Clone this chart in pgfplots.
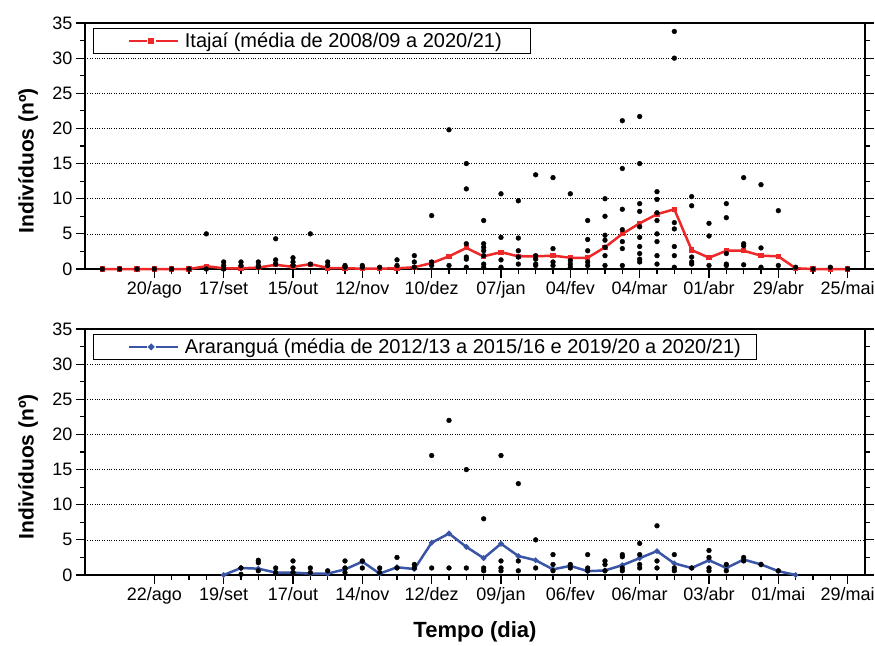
\documentclass[border=0pt]{standalone}
\usepackage{fontspec}
\setmainfont{Liberation Sans}
\usepackage{pgfplots}
\pgfplotsset{compat=1.18}
\definecolor{itred}{RGB}{238,40,40}
\definecolor{arblue}{RGB}{58,84,166}

\pgfplotstableread{
x y
1 0
2 0
3 0
4 0
5 0
6 0
7 0.4
8 0.1
9 0.1
10 0.2
11 0.6
12 0.3
13 0.7
14 0.15
15 0.1
16 0.05
17 0.05
18 0.1
19 0.25
20 0.85
21 1.8
22 3.0
23 1.8
24 2.4
25 1.8
26 1.8
27 1.9
28 1.6
29 1.6
30 3.1
31 5.0
32 6.5
33 7.8
34 8.5
35 2.7
36 1.6
37 2.6
38 2.6
39 1.9
40 1.8
41 0.1
42 0
43 0
44 0
}\itmean

\pgfplotstableread{
x y
1 0
2 0
3 0
4 0
5 0
6 0
7 5.0
7 0
8 1.0
8 0.5
8 0
9 1.0
9 0.5
10 1.0
10 0.5
10 0.25
11 4.3
11 1.3
11 0.7
12 1.6
12 1.0
12 0.5
13 5.0
13 0.7
14 1.0
14 0.5
15 0.5
15 0.25
16 0.5
16 0.25
17 0.25
18 1.3
18 0.5
19 1.9
19 1.0
19 0.25
20 7.6
20 1.0
20 0.5
21 19.8
21 0.5
22 15.0
22 11.4
22 3.6
22 1.7
22 1.4
22 0.25
23 6.9
23 3.6
23 3.1
23 2.6
23 1.9
23 0.7
23 0.25
24 10.7
24 4.5
24 1.3
24 0.25
25 9.7
25 4.4
25 2.6
25 1.7
25 0.7
26 13.4
26 1.9
26 1.4
26 0.7
26 0.5
27 13.0
27 2.9
27 1.0
27 0.5
28 10.7
28 1.2
28 0.7
28 0.25
29 6.9
29 4.2
29 2.6
29 1.0
29 0.5
30 10.0
30 7.5
30 4.8
30 4.1
30 3.1
30 1.9
30 0.5
31 21.1
31 14.3
31 8.5
31 5.6
31 3.9
31 2.9
31 0.5
32 21.7
32 15.0
32 9.3
32 8.2
32 6.0
32 4.5
32 3.2
32 2.2
32 1.4
32 1.0
33 11.0
33 9.9
33 8.0
33 6.9
33 5.0
33 3.9
33 1.9
33 0.7
34 33.8
34 30.0
34 6.6
34 5.7
34 3.2
34 1.9
34 0.25
35 10.3
35 9.0
35 1.7
35 1.0
35 0.7
36 6.5
36 4.7
36 0.5
37 9.3
37 7.3
37 2.2
37 0.7
37 0.5
38 13.0
38 3.6
38 3.3
38 0.6
39 12.0
39 3.0
39 0.25
40 8.3
40 0.5
41 0.25
42 0
43 0.25
44 0
}\itpts

\pgfplotstableread{
x y
8 0
9 1.0
10 0.9
11 0.35
12 0.35
13 0.2
14 0.2
15 0.8
16 1.9
17 0.2
18 1.1
19 0.85
20 4.6
21 5.9
22 4.0
23 2.4
24 4.45
25 2.7
26 2.1
27 0.8
28 1.3
29 0.55
30 0.65
31 1.4
32 2.4
33 3.4
34 1.65
35 1.0
36 2.1
37 1.0
38 2.2
39 1.5
40 0.55
41 0
}\armean

\pgfplotstableread{
x y
9 1.0
9 0.1
10 2.1
10 1.75
10 0.6
11 1.0
11 0.35
12 2.0
12 1.0
12 0.35
13 1.0
13 0.35
14 0.6
15 2.0
15 1.0
15 0.35
16 2.0
16 1.0
17 1.0
17 0.35
18 2.5
18 1.0
19 1.5
19 1.0
20 17.0
20 1.0
21 22.0
21 1.0
22 15.0
22 1.0
23 8.0
23 1.0
23 0.6
24 17.0
24 2.0
24 1.0
24 0.6
25 13.0
25 2.0
25 0.6
26 5.0
26 1.0
27 2.9
27 1.5
27 0.6
28 1.5
28 1.0
29 2.9
29 1.0
29 0.6
30 2.0
30 1.5
30 0.6
31 2.9
31 2.6
31 1.0
31 0.6
32 4.5
32 2.9
32 1.5
32 1.0
33 7.0
33 2.0
33 1.0
34 2.9
34 1.0
34 0.6
35 1.0
36 3.5
36 2.5
36 1.0
36 0.6
37 1.5
37 0.6
38 2.5
38 2.0
39 1.5
40 0.6
}\arpts

\pgfplotsset{
  panel/.style={
    scale only axis, width=780pt, height=246pt,
    xmin=0, xmax=45, ymin=0, ymax=35,
    xtick={4,8,...,44}, minor x tick num=3,
    ytick={0,5,...,35}, minor y tick num=1,
    xtick pos=bottom, ytick pos=both,
    tick align=outside,
    major tick length=9pt, minor tick length=5pt,
    every tick/.style={black, line width=1.1pt},
    axis line style={line width=1.4pt},
    ymajorgrids, grid style={dotted, black, line width=0.7pt},
    tick label style={font=\fontsize{18}{18}\selectfont},
    /pgf/number format/assume math mode=true,
    ylabel={Indivíduos (nº)},
    ylabel style={font=\fontsize{21}{21}\selectfont\bfseries, at={(axis description cs:-0.073,0.44)}, anchor=center},
    legend style={at={(0.0103,0.98)}, anchor=north west, draw=black, fill=white, line width=0.8pt,
      font=\fontsize{20}{20}\selectfont, inner ysep=2.5pt, inner xsep=1pt},
    legend cell align=left,
    clip=false,
  },
  meanline/.style={line width=2.5pt, mark size=1.3pt,
    legend image code/.code={
      \path (-33pt,-8pt) (53pt,8pt);
      \draw[##1, mark=none] (0pt,0pt) -- (18pt,0pt);
      \draw[##1, mark=none] (27pt,0pt) -- (49pt,0pt);
      \draw[##1, only marks, mark size=1.8pt] plot coordinates {(22.5pt,0pt)};
    }},
  dots/.style={only marks, mark=*, mark size=2.4pt, black, forget plot},
}

\begin{document}
\begin{tikzpicture}
\useasboundingbox (0,0) rectangle (875pt,-645pt);
\begin{axis}[panel, at={(85pt,-269pt)}, anchor=south west,
  xticklabels={20/ago,17/set,15/out,12/nov,10/dez,07/jan,04/fev,04/mar,01/abr,29/abr,25/mai}]
\addplot[meanline, itred, mark=square*] table {\itmean};
\addlegendentry{Itajaí (média de 2008/09 a 2020/21)\rule{26pt}{0pt}}
\addplot[dots] table {\itpts};
\end{axis}
\begin{axis}[panel, at={(85pt,-575pt)}, anchor=south west,
  xticklabels={22/ago,19/set,17/out,14/nov,12/dez,09/jan,06/fev,06/mar,03/abr,01/mai,29/mai},
  xlabel={Tempo (dia)},
  xlabel style={font=\fontsize{22}{22}\selectfont\bfseries, at={(axis description cs:0.5,0)}, yshift=-57pt, anchor=center}]
\addplot[meanline, arblue, mark=*] table {\armean};
\addlegendentry{Araranguá (média de 2012/13 a 2015/16 e 2019/20 a 2020/21)\rule{12pt}{0pt}}
\addplot[dots] table {\arpts};
\end{axis}
\end{tikzpicture}
\end{document}
